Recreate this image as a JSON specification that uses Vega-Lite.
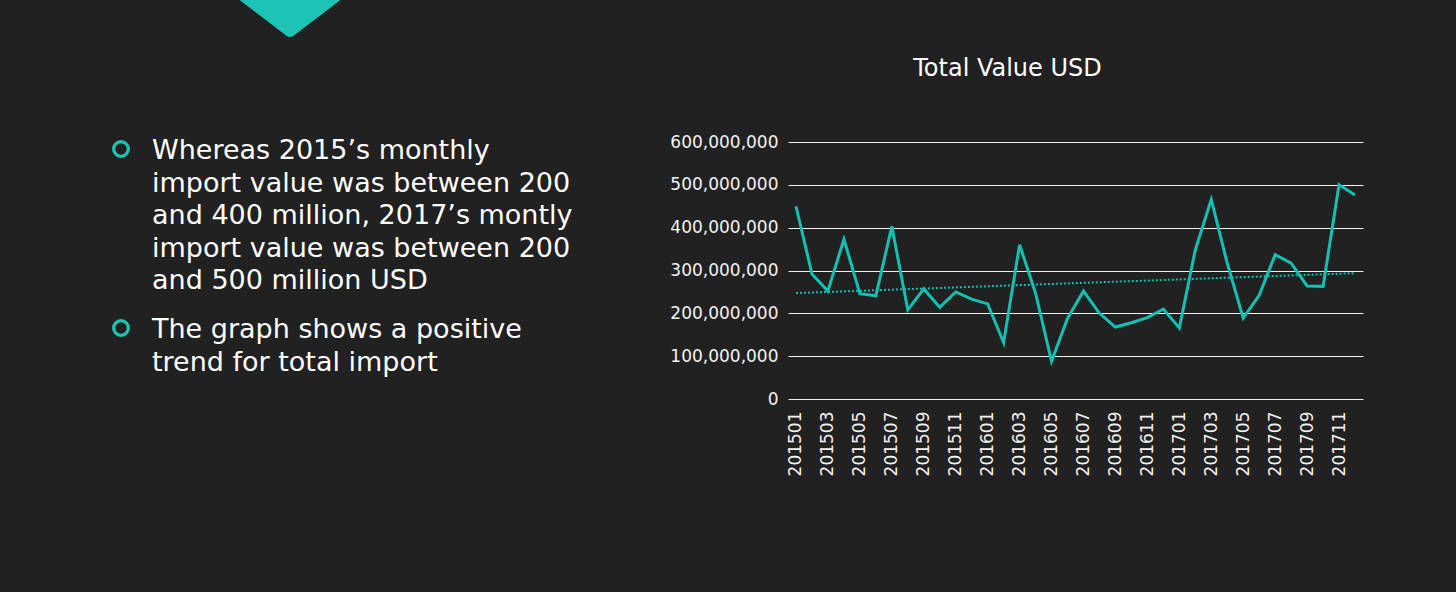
{
  "$schema": "https://vega.github.io/schema/vega-lite/v6.json",
  "background": "#212121",
  "autosize": {"type": "none"},
  "padding": {"left": 0, "top": 0, "right": 1456, "bottom": 592},
  "bounds": "flush",
  "center": true,
  "spacing": 168,
  "config": {
    "view": {"stroke": null},
    "font": "DejaVu Sans"
  },
  "datasets": {
    "imports": [
      {"month": "201501", "value": 450000000},
      {"month": "201502", "value": 292000000},
      {"month": "201503", "value": 252000000},
      {"month": "201504", "value": 373000000},
      {"month": "201505", "value": 246000000},
      {"month": "201506", "value": 241000000},
      {"month": "201507", "value": 403000000},
      {"month": "201508", "value": 208000000},
      {"month": "201509", "value": 257000000},
      {"month": "201510", "value": 214000000},
      {"month": "201511", "value": 250000000},
      {"month": "201512", "value": 233000000},
      {"month": "201601", "value": 222000000},
      {"month": "201602", "value": 132000000},
      {"month": "201603", "value": 360000000},
      {"month": "201604", "value": 247000000},
      {"month": "201605", "value": 88000000},
      {"month": "201606", "value": 188000000},
      {"month": "201607", "value": 252000000},
      {"month": "201608", "value": 200000000},
      {"month": "201609", "value": 168000000},
      {"month": "201610", "value": 178000000},
      {"month": "201611", "value": 190000000},
      {"month": "201612", "value": 210000000},
      {"month": "201701", "value": 166000000},
      {"month": "201702", "value": 348000000},
      {"month": "201703", "value": 466000000},
      {"month": "201704", "value": 317000000},
      {"month": "201705", "value": 189000000},
      {"month": "201706", "value": 242000000},
      {"month": "201707", "value": 337000000},
      {"month": "201708", "value": 317000000},
      {"month": "201709", "value": 264000000},
      {"month": "201710", "value": 263000000},
      {"month": "201711", "value": 500000000},
      {"month": "201712", "value": 476000000}
    ],
    "bullets": [
      {"item": 1, "lines": ["Whereas 2015’s monthly", "import value was between 200", "and 400 million, 2017’s montly", "import value was between 200", "and 500 million USD"]},
      {"item": 2, "lines": ["The graph shows a positive", "trend for total import"]}
    ],
    "deco": [{"shape": "chevron"}]
  },
  "hconcat": [
    {
      "width": 620,
      "height": 541,
      "layer": [
        {
          "data": {"name": "deco"},
          "mark": {"type": "point", "shape": "M-1,-0.42 L1,-0.42 L0.07,0.29 Q0,0.34 -0.07,0.29 Z", "filled": true, "color": "#1dc4b5", "opacity": 1, "size": 10404},
          "encoding": {
            "x": {"datum": 290, "type": "quantitative", "scale": {"domain": [0, 620], "nice": false, "zero": false}, "axis": null},
            "y": {"datum": 21, "type": "quantitative", "scale": {"domain": [0, 541], "nice": false, "reverse": true}, "axis": null}
          }
        },
        {
          "data": {"name": "bullets"},
          "layer": [
            {
              "mark": {"type": "point", "shape": "circle", "filled": false, "stroke": "#1dc4b5", "strokeWidth": 3.3, "size": 216, "opacity": 1},
              "encoding": {
                "x": {"datum": 121, "type": "quantitative"},
                "y": {"field": "item", "type": "ordinal", "scale": {"type": "point", "range": [149, 328], "padding": 0}, "axis": null}
              }
            },
            {
              "mark": {"type": "text", "align": "left", "baseline": "alphabetic", "dy": 10, "fontSize": 27, "lineHeight": 32.5, "color": "#ffffff"},
              "encoding": {
                "x": {"datum": 152, "type": "quantitative"},
                "y": {"field": "item", "type": "ordinal"},
                "text": {"field": "lines"}
              }
            }
          ]
        }
      ],
      "resolve": {"scale": {"y": "independent"}}
    },
    {
      "width": 575,
      "height": 257,
      "title": {"text": "Total Value USD", "fontSize": 24, "fontWeight": "normal", "color": "#ffffff", "font": "DejaVu Sans", "anchor": "middle", "frame": "group", "dx": -68, "offset": 33, "baseline": "alphabetic"},
      "data": {"name": "imports"},
      "layer": [
        {
          "mark": {"type": "line", "color": "#14c0b4", "strokeWidth": 3},
          "encoding": {
            "x": {"field": "month", "type": "ordinal", "scale": {"type": "point", "padding": 0.5},
              "axis": {"title": null, "labelAngle": -90, "values": ["201501","201503","201505","201507","201509","201511","201601","201603","201605","201607","201609","201611","201701","201703","201705","201707","201709","201711"], "ticks": false, "domain": false, "labelPadding": 12, "labelFontSize": 17, "labelColor": "#f2f2f2", "labelFont": "DejaVu Sans", "grid": false}},
            "y": {"field": "value", "type": "quantitative", "scale": {"domain": [0, 600000000], "nice": false},
              "axis": {"title": null, "values": [0, 100000000, 200000000, 300000000, 400000000, 500000000, 600000000], "format": ",d", "ticks": false, "domain": false, "labelPadding": 10, "labelFontSize": 17, "labelColor": "#f2f2f2", "labelFont": "DejaVu Sans", "grid": true, "gridColor": "#f2f2f2", "gridWidth": 1, "gridOpacity": 1}}
          }
        },
        {
          "transform": [
            {"window": [{"op": "row_number", "as": "i"}], "sort": [{"field": "month"}]},
            {"regression": "value", "on": "i"}
          ],
          "mark": {"type": "line", "color": "#14c0b4", "strokeWidth": 2, "strokeDash": [2, 2]},
          "encoding": {
            "x": {"field": "i", "type": "quantitative", "scale": {"domain": [0.5, 36.5], "nice": false, "zero": false}, "axis": null},
            "y": {"field": "value", "type": "quantitative"}
          }
        }
      ],
      "resolve": {"scale": {"x": "independent"}, "axis": {"x": "independent"}}
    }
  ]
}
